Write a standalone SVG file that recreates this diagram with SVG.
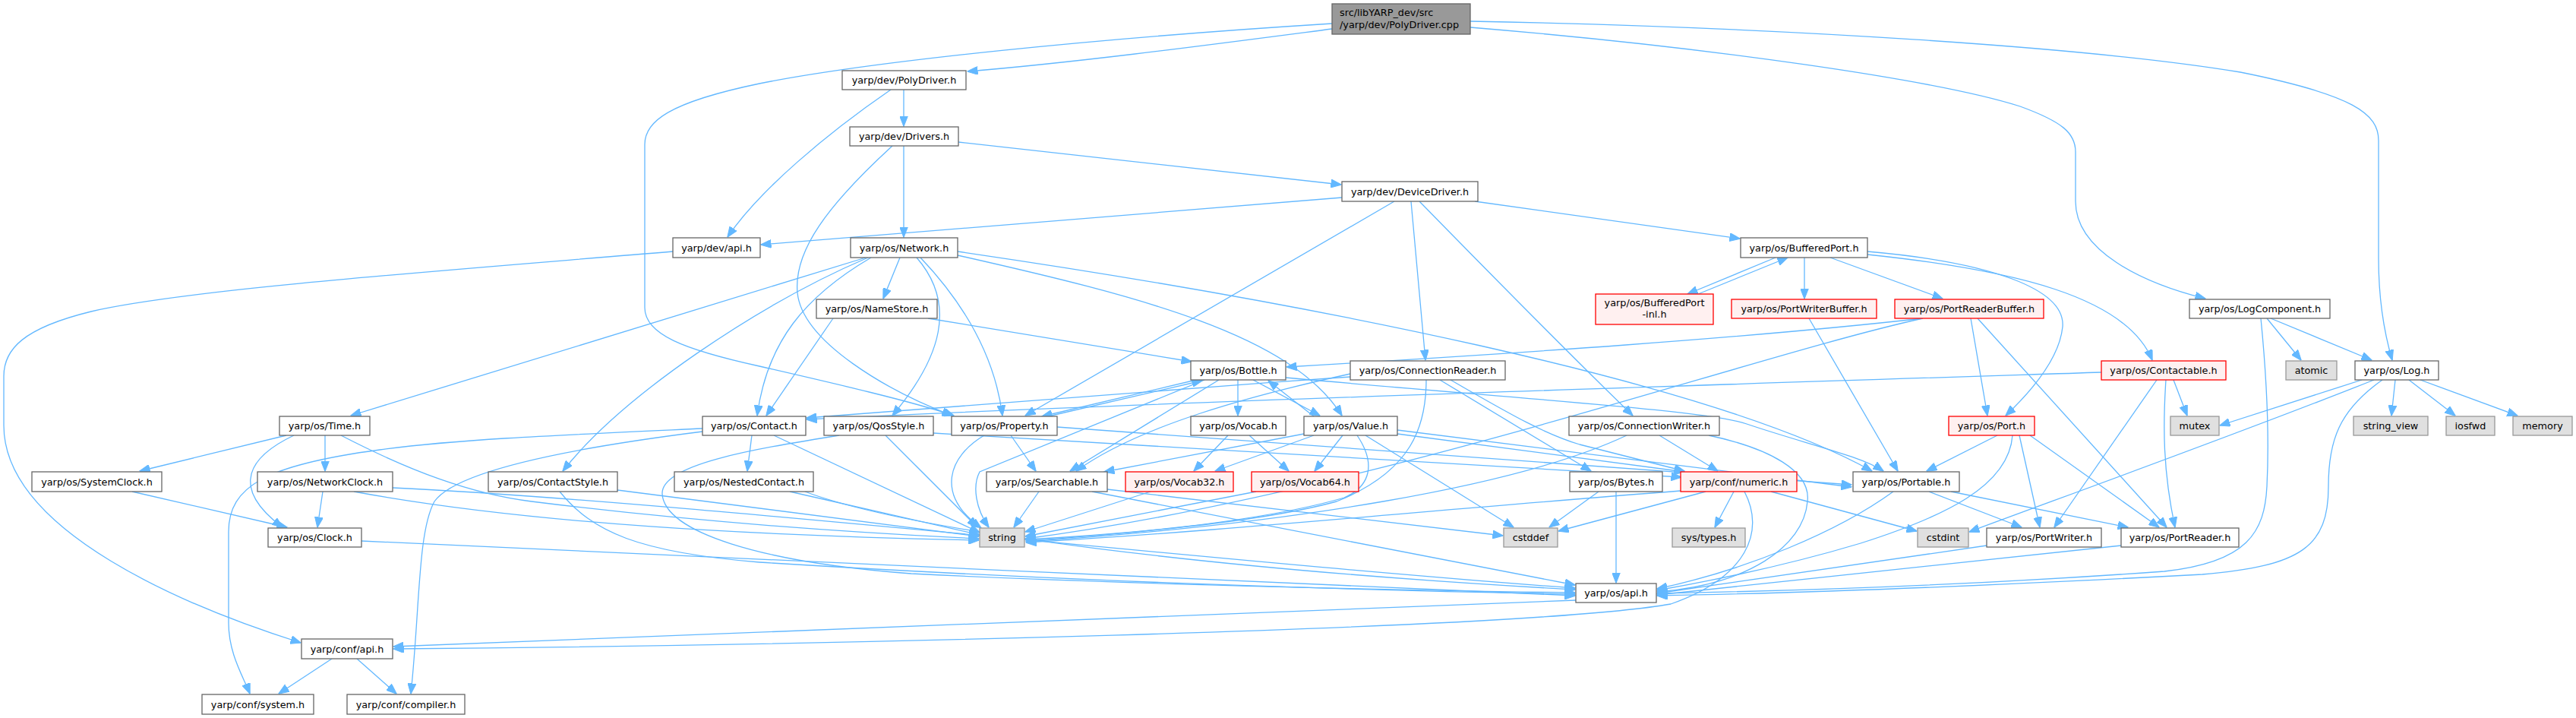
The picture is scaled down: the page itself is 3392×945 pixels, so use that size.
<svg xmlns="http://www.w3.org/2000/svg" width="3392" height="945" viewBox="0 0 3392 945">
<style>
.n rect{fill:#ffffff;stroke:#666666;stroke-width:1.3}
.r rect{fill:#fff0f0;stroke:#ff0000;stroke-width:1.3}
.g rect{fill:#e0e0e0;stroke:#999999;stroke-width:1.3}
.root rect{fill:#999999;stroke:#666666;stroke-width:1.3}
text{font-family:"DejaVu Sans","Noto Sans",sans-serif;font-size:12.8px;fill:#000000;text-anchor:middle}
.e path{fill:none;stroke:#63b8ff;stroke-width:1.3;marker-end:url(#a)}
</style>
<defs>
<marker id="a" markerWidth="14" markerHeight="11" refX="13.5" refY="5.5" orient="auto" markerUnits="userSpaceOnUse"><path d="M0,0 L14,5.5 L0,11 z" fill="#63b8ff" stroke="#63b8ff" stroke-width="1"/></marker>
</defs>
<rect width="3392" height="945" fill="#ffffff"/>
<g class="e" id="edges">
<path d="M1754,38 C1600,58 1420,82 1274,94"/>
<path d="M1754,31 C1450,50 1150,80 1000,110 C880,135 849,160 849,190 L849,405 C849,440 900,460 1000,482 C1100,505 1200,528 1256,547"/>
<path d="M1936,36 C2250,62 2550,105 2660,140 C2715,160 2733,175 2733,200 L2733,265 C2733,330 2820,372 2904,393"/>
<path d="M1936,28 C2350,36 2750,62 2950,95 C3100,125 3132,150 3132,185 L3132,340 C3132,400 3140,440 3150,474"/>
<path d="M1190,118 L1190,166"/>
<path d="M1173,118 C1090,175 1000,250 958,312"/>
<path d="M1190,192 L1190,312"/>
<path d="M1262,187 L1766,243"/>
<path d="M1175,192 C1090,270 1045,330 1050,385 C1056,450 1170,515 1254,547"/>
<path d="M1767,260 L1002,322"/>
<path d="M1942,265 L2291,314"/>
<path d="M1858,265 L1877,474"/>
<path d="M1869,265 Q2050,450 2150,547"/>
<path d="M1836,265 L1350,547"/>
<path d="M1185,339 L1163,393"/>
<path d="M1140,339 L462,547"/>
<path d="M1143,339 C1000,400 820,520 741,620"/>
<path d="M1147,339 C1060,390 1010,450 997,547"/>
<path d="M1207,339 C1260,400 1240,470 1175,547"/>
<path d="M1212,339 C1270,400 1310,470 1320,547"/>
<path d="M1261,336 C1500,390 1700,440 1767,547"/>
<path d="M1261,331 C1700,395 2250,500 2465,620"/>
<path d="M1222,419 L1569,476"/>
<path d="M1097,419 L1009,547"/>
<path d="M2338,339 L2222,387"/>
<path d="M2236,387 L2354,339"/>
<path d="M2376,339 L2376,393"/>
<path d="M2410,339 L2558,393"/>
<path d="M2459,331 C2620,345 2720,380 2716,430 C2712,470 2680,510 2641,547"/>
<path d="M2459,335 C2650,355 2800,390 2834,474"/>
<path d="M2382,419 L2499,620"/>
<path d="M2532,419 C2300,445 2000,465 1694,483"/>
<path d="M2532,419 C2300,470 1800,650 1350,709"/>
<path d="M2595,419 L2617,547"/>
<path d="M2604,419 L2853,694"/>
<path d="M2990,419 L3123,474"/>
<path d="M2985,419 L3030,474"/>
<path d="M2977,419 C2985,500 2988,580 2985,640 C2982,700 2960,740 2850,752 C2600,770 2350,778 2182,781"/>
<path d="M3137,500 C3080,540 3066,580 3066,640 C3066,720 3030,745 2900,756 C2600,772 2350,781 2182,784"/>
<path d="M3110,500 L2923,560"/>
<path d="M3126,500 C2950,570 2700,660 2593,700"/>
<path d="M3154,500 L3149,547"/>
<path d="M3172,500 L3233,547"/>
<path d="M3187,500 L3315,547"/>
<path d="M1575,500 L1372,548"/>
<path d="M1380,548 L1583,501"/>
<path d="M1630,500 L1630,547"/>
<path d="M1605,500 L1409,620"/>
<path d="M1586,500 L1290,621 C1280,640 1285,670 1302,694"/>
<path d="M1650,500 L1738,547"/>
<path d="M1730,548 L1670,501"/>
<path d="M1693,497 C2000,525 2250,540 2300,558 C2380,585 2450,600 2480,620"/>
<path d="M1717,571 L1454,621"/>
<path d="M1730,573 L1600,620"/>
<path d="M1768,573 L1731,620"/>
<path d="M1787,573 C1812,610 1805,640 1770,655 C1650,690 1450,705 1351,712"/>
<path d="M1798,573 L1993,694"/>
<path d="M1840,566 L2438,641"/>
<path d="M1840,571 L2218,621"/>
<path d="M1617,573 L1572,620"/>
<path d="M1645,573 L1697,620"/>
<path d="M1331,573 L1364,620"/>
<path d="M1296,573 C1250,600 1230,650 1292,695"/>
<path d="M1392,562 L2438,638"/>
<path d="M1166,573 L1287,694"/>
<path d="M1105,573 C1000,590 870,610 872,650 C875,700 1000,740 1200,755 C1500,770 1900,778 2074,780"/>
<path d="M1229,570 L2214,628"/>
<path d="M990,573 L984,620"/>
<path d="M1019,573 L1290,701"/>
<path d="M925,564 C750,572 600,578 500,592 C350,612 301,640 301,700 L301,820 C301,860 320,890 329,913"/>
<path d="M925,568 C750,590 600,620 572,660 C550,700 553,800 541,913"/>
<path d="M1040,647 L1290,704"/>
<path d="M1060,647 C1200,700 1600,750 2074,776"/>
<path d="M813,645 L1289,706"/>
<path d="M737,647 C780,700 840,727 1000,740 C1400,765 1800,777 2074,782"/>
<path d="M377,573 L184,620"/>
<path d="M387,573 C330,600 300,640 372,694"/>
<path d="M428,573 L428,620"/>
<path d="M449,573 C540,620 620,650 700,660 C900,685 1100,700 1289,709"/>
<path d="M174,647 L378,694"/>
<path d="M425,647 L418,694"/>
<path d="M517,642 C900,660 1600,740 2074,774"/>
<path d="M466,647 C700,690 1000,705 1289,711"/>
<path d="M476,712 C900,730 1600,765 2074,784"/>
<path d="M2767,490 C2300,505 1500,530 1062,552"/>
<path d="M2840,500 L2705,694"/>
<path d="M2852,500 C2848,560 2848,620 2864,694"/>
<path d="M2862,500 L2880,547"/>
<path d="M1778,492 C1650,520 1500,560 1417,620"/>
<path d="M1878,500 C1878,560 1860,620 1760,660 C1650,690 1450,705 1351,710"/>
<path d="M1896,500 L2095,620"/>
<path d="M1910,500 C1980,540 2030,570 2080,585 C2140,600 2185,612 2218,620"/>
<path d="M1778,496 C1500,515 1200,540 1062,550"/>
<path d="M2142,573 C2000,640 1700,690 1351,713"/>
<path d="M2185,573 L2262,620"/>
<path d="M2250,573 C2330,590 2385,620 2380,660 C2375,720 2300,770 2182,779"/>
<path d="M2105,647 L2040,694"/>
<path d="M2128,647 L2128,767"/>
<path d="M2283,647 L2258,694"/>
<path d="M2332,647 L2524,699"/>
<path d="M2246,647 L2052,699"/>
<path d="M2213,646 C1900,670 1600,700 1351,714"/>
<path d="M2297,647 C2325,700 2300,760 2200,795 C2000,830 1000,850 518,854"/>
<path d="M1368,647 L1335,694"/>
<path d="M1438,647 L2074,770"/>
<path d="M1458,644 L1979,705"/>
<path d="M1515,647 L1350,700"/>
<path d="M1654,647 L1350,706"/>
<path d="M2630,573 L2537,620"/>
<path d="M2650,573 C2645,640 2560,680 2450,715 C2350,745 2250,765 2182,777"/>
<path d="M2659,573 L2686,694"/>
<path d="M2673,573 L2843,694"/>
<path d="M2493,647 C2420,700 2300,750 2182,775"/>
<path d="M2540,647 L2662,694"/>
<path d="M2569,647 L2802,694"/>
<path d="M2616,718 L2182,781"/>
<path d="M2793,718 L2182,783"/>
<path d="M2075,790 L518,851"/>
<path d="M437,867 L367,913"/>
<path d="M470,867 L522,913"/>
<path d="M886,331 C600,355 250,380 120,410 C30,432 5,460 5,495 L5,560 C5,700 250,800 396,846"/>
</g>
<g id="root" class="root"><rect x="1754" y="5" width="182" height="40"/><text x="1764" y="21" style="text-anchor:start">src/libYARP_dev/src</text><text x="1764" y="37" style="text-anchor:start">/yarp/dev/PolyDriver.cpp</text></g>
<g id="n_polydriver" class="n"><rect x="1109" y="93" width="163" height="25"/><text x="1190.5" y="110">yarp/dev/PolyDriver.h</text></g>
<g id="n_drivers" class="n"><rect x="1119" y="167" width="143" height="25"/><text x="1190.5" y="184">yarp/dev/Drivers.h</text></g>
<g id="n_devicedriver" class="n"><rect x="1767" y="239" width="179" height="26"/><text x="1856.5" y="256.5">yarp/dev/DeviceDriver.h</text></g>
<g id="n_devapi" class="n"><rect x="886" y="313" width="115" height="26"/><text x="943.5" y="330.5">yarp/dev/api.h</text></g>
<g id="n_network" class="n"><rect x="1120" y="313" width="141" height="26"/><text x="1190.5" y="330.5">yarp/os/Network.h</text></g>
<g id="n_bufferedport" class="n"><rect x="2292" y="313" width="167" height="26"/><text x="2375.5" y="330.5">yarp/os/BufferedPort.h</text></g>
<g id="n_namestore" class="n"><rect x="1075" y="394" width="159" height="25"/><text x="1154.5" y="411">yarp/os/NameStore.h</text></g>
<g id="n_bpinl" class="r"><rect x="2101" y="387" width="155" height="40"/><text x="2178.5" y="403">yarp/os/BufferedPort</text><text x="2178.5" y="418">-inl.h</text></g>
<g id="n_pwb" class="r"><rect x="2280" y="394" width="191" height="25"/><text x="2375.5" y="411">yarp/os/PortWriterBuffer.h</text></g>
<g id="n_prb" class="r"><rect x="2495" y="394" width="196" height="25"/><text x="2593" y="411">yarp/os/PortReaderBuffer.h</text></g>
<g id="n_logcomp" class="n"><rect x="2883" y="394" width="185" height="25"/><text x="2975.5" y="411">yarp/os/LogComponent.h</text></g>
<g id="n_bottle" class="n"><rect x="1568" y="475" width="125" height="25"/><text x="1630.5" y="492">yarp/os/Bottle.h</text></g>
<g id="n_connreader" class="n"><rect x="1778" y="475" width="204" height="25"/><text x="1880" y="492">yarp/os/ConnectionReader.h</text></g>
<g id="n_contactable" class="r"><rect x="2767" y="475" width="164" height="25"/><text x="2849" y="492">yarp/os/Contactable.h</text></g>
<g id="n_atomic" class="g"><rect x="3010" y="475" width="67" height="25"/><text x="3043.5" y="492">atomic</text></g>
<g id="n_log" class="n"><rect x="3101" y="475" width="110" height="25"/><text x="3156" y="492">yarp/os/Log.h</text></g>
<g id="n_time" class="n"><rect x="368" y="548" width="119" height="25"/><text x="427.5" y="565">yarp/os/Time.h</text></g>
<g id="n_contact" class="n"><rect x="925" y="548" width="136" height="25"/><text x="993" y="565">yarp/os/Contact.h</text></g>
<g id="n_qos" class="n"><rect x="1085" y="548" width="144" height="25"/><text x="1157" y="565">yarp/os/QosStyle.h</text></g>
<g id="n_property" class="n"><rect x="1253" y="548" width="139" height="25"/><text x="1322.5" y="565">yarp/os/Property.h</text></g>
<g id="n_vocab" class="n"><rect x="1568" y="548" width="125" height="25"/><text x="1630.5" y="565">yarp/os/Vocab.h</text></g>
<g id="n_value" class="n"><rect x="1717" y="548" width="123" height="25"/><text x="1778.5" y="565">yarp/os/Value.h</text></g>
<g id="n_connwriter" class="n"><rect x="2066" y="548" width="198" height="25"/><text x="2165" y="565">yarp/os/ConnectionWriter.h</text></g>
<g id="n_port" class="r"><rect x="2566" y="548" width="113" height="25"/><text x="2622.5" y="565">yarp/os/Port.h</text></g>
<g id="n_mutex" class="g"><rect x="2858" y="548" width="64" height="25"/><text x="2890" y="565">mutex</text></g>
<g id="n_stringview" class="g"><rect x="3099" y="548" width="98" height="25"/><text x="3148" y="565">string_view</text></g>
<g id="n_iosfwd" class="g"><rect x="3221" y="548" width="64" height="25"/><text x="3253" y="565">iosfwd</text></g>
<g id="n_memory" class="g"><rect x="3309" y="548" width="78" height="25"/><text x="3348" y="565">memory</text></g>
<g id="n_systemclock" class="n"><rect x="42" y="621" width="171" height="26"/><text x="127.5" y="638.5">yarp/os/SystemClock.h</text></g>
<g id="n_networkclock" class="n"><rect x="339" y="621" width="178" height="26"/><text x="428" y="638.5">yarp/os/NetworkClock.h</text></g>
<g id="n_contactstyle" class="n"><rect x="643" y="621" width="170" height="26"/><text x="728" y="638.5">yarp/os/ContactStyle.h</text></g>
<g id="n_nestedcontact" class="n"><rect x="888" y="621" width="183" height="26"/><text x="979.5" y="638.5">yarp/os/NestedContact.h</text></g>
<g id="n_searchable" class="n"><rect x="1299" y="621" width="159" height="26"/><text x="1378.5" y="638.5">yarp/os/Searchable.h</text></g>
<g id="n_vocab32" class="r"><rect x="1482" y="621" width="142" height="26"/><text x="1553" y="638.5">yarp/os/Vocab32.h</text></g>
<g id="n_vocab64" class="r"><rect x="1648" y="621" width="141" height="26"/><text x="1718.5" y="638.5">yarp/os/Vocab64.h</text></g>
<g id="n_bytes" class="n"><rect x="2067" y="621" width="122" height="26"/><text x="2128" y="638.5">yarp/os/Bytes.h</text></g>
<g id="n_numeric" class="r"><rect x="2213" y="621" width="153" height="26"/><text x="2289.5" y="638.5">yarp/conf/numeric.h</text></g>
<g id="n_portable" class="n"><rect x="2440" y="621" width="140" height="26"/><text x="2510" y="638.5">yarp/os/Portable.h</text></g>
<g id="n_clock" class="n"><rect x="353" y="695" width="123" height="25"/><text x="414.5" y="712">yarp/os/Clock.h</text></g>
<g id="n_string" class="g"><rect x="1290" y="695" width="59" height="25"/><text x="1319.5" y="712">string</text></g>
<g id="n_cstddef" class="g"><rect x="1980" y="695" width="71" height="25"/><text x="2015.5" y="712">cstddef</text></g>
<g id="n_systypes" class="g"><rect x="2202" y="695" width="96" height="25"/><text x="2250" y="712">sys/types.h</text></g>
<g id="n_cstdint" class="g"><rect x="2525" y="695" width="67" height="25"/><text x="2558.5" y="712">cstdint</text></g>
<g id="n_portwriter" class="n"><rect x="2616" y="695" width="151" height="25"/><text x="2691.5" y="712">yarp/os/PortWriter.h</text></g>
<g id="n_portreader" class="n"><rect x="2793" y="695" width="155" height="25"/><text x="2870.5" y="712">yarp/os/PortReader.h</text></g>
<g id="n_osapi" class="n"><rect x="2075" y="768" width="106" height="25"/><text x="2128" y="785">yarp/os/api.h</text></g>
<g id="n_confapi" class="n"><rect x="397" y="841" width="120" height="26"/><text x="457" y="858.5">yarp/conf/api.h</text></g>
<g id="n_confsystem" class="n"><rect x="266" y="914" width="147" height="26"/><text x="339.5" y="931.5">yarp/conf/system.h</text></g>
<g id="n_confcompiler" class="n"><rect x="457" y="914" width="155" height="26"/><text x="534.5" y="931.5">yarp/conf/compiler.h</text></g>
</svg>
